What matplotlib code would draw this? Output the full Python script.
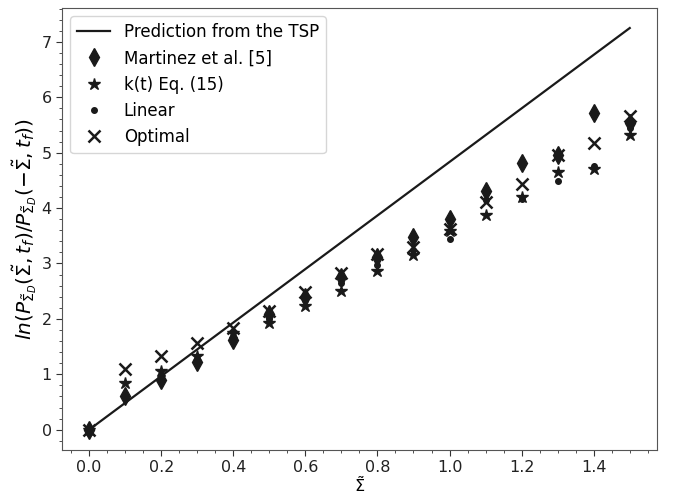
import matplotlib
matplotlib.use("Agg")
import matplotlib.pyplot as plt
from matplotlib.ticker import MultipleLocator, AutoMinorLocator


sigma = [0.0, 0.1, 0.2, 0.3, 0.4, 0.5, 0.6, 0.7, 0.8, 0.9, 1.0, 1.1, 1.2, 1.3, 1.4, 1.5]

martinez = [0.0, 0.61, 0.90, 1.23, 1.62, 2.08, 2.40, 2.75, 3.11, 3.48, 3.81, 4.31, 4.82, 4.95, 5.71, 5.54]
kt_eq15 = [0.0, 0.85, 1.06, 1.33, 1.75, 1.93, 2.23, 2.50, 2.86, 3.15, 3.58, 3.87, 4.20, 4.66, 4.70, 5.32]
linear = [0.0, 0.60, 0.95, 1.27, 1.66, 2.00, 2.34, 2.64, 2.98, 3.25, 3.45, 4.15, 4.16, 4.49, 4.76, 5.45]
optimal = [0.0, 1.10, 1.33, 1.57, 1.83, 2.15, 2.48, 2.83, 3.17, 3.30, 3.63, 4.11, 4.43, 4.95, 5.17, 5.66]

tsp_x = [0.0, 1.5]
tsp_y = [0.0, 7.25]

fig, ax = plt.subplots(figsize=(6.75, 4.97), dpi=100)
fig.subplots_adjust(left=0.092, right=0.973, top=0.984, bottom=0.095)

ax.plot(tsp_x, tsp_y, color='#1a1a1a', lw=1.6, label='Prediction from the TSP')
ax.plot(sigma, martinez, 'd', color='#1a1a1a', ms=9, label='Martinez et al. [5]')
ax.plot(sigma, kt_eq15, '*', color='#1a1a1a', ms=9, label='k(t) Eq. (15)')
ax.plot(sigma, linear, '.', color='#1a1a1a', ms=8, label='Linear')
ax.plot(sigma, optimal, 'x', color='#1a1a1a', ms=8, mew=1.8, label='Optimal')

ax.xaxis.set_major_locator(MultipleLocator(0.2))
ax.xaxis.set_minor_locator(MultipleLocator(0.05))
ax.yaxis.set_major_locator(MultipleLocator(1))
ax.yaxis.set_minor_locator(AutoMinorLocator(5))
ax.tick_params(which='major', length=4, color='#333333', labelcolor='#222222', labelsize=11.5)
ax.tick_params(which='minor', length=2.5, color='#333333')
for s in ax.spines.values():
    s.set_color('#555555')

ax.set_xlabel(r'$\tilde{\Sigma}$', fontsize=11.5, labelpad=0)
ax.set_ylabel(r'$ln(P_{\tilde{\Sigma}_D}(\tilde{\Sigma},t_f)/P_{\tilde{\Sigma}_D}(-\tilde{\Sigma},t_f))$',
              fontsize=14.5, labelpad=2)

ax.legend(loc='upper left', fontsize=12)

fig.savefig('out.png', dpi=100)
